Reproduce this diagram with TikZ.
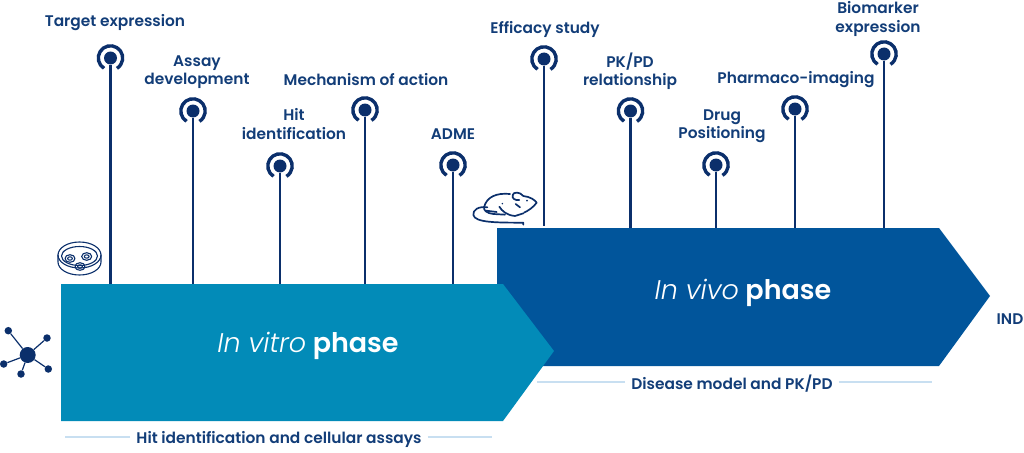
\documentclass[tikz,border=0pt]{standalone}
\usepackage{fontspec}
\setmainfont{Poppins}[UprightFont=* SemiBold,BoldFont=* SemiBold,ItalicFont=* Light Italic]
\definecolor{navy}{HTML}{0B2F6B}
\definecolor{labelblue}{HTML}{123D78}
\definecolor{vitroblue}{HTML}{028BB8}
\definecolor{vivoblue}{HTML}{01559B}
\definecolor{ruleblue}{HTML}{C8DFF1}
\tikzset{
  pindot/.style={circle, fill=navy, inner sep=0pt, minimum size=13pt},
  pinline/.style={navy, line width=2.7pt},
  pinring/.style={navy, line width=3.4pt},
  tag/.style={text=labelblue, align=center, font=\fontsize{15.4}{18.5}\selectfont},
  phasetitle/.style={text=white, font=\fontsize{27}{30}\selectfont},
  rulecap/.style={text=labelblue, inner xsep=6pt, font=\fontsize{15.4}{18}\selectfont},
  ruleline/.style={ruleblue, line width=1.2pt},
  icon/.style={navy, line width=1.1pt, line cap=round, line join=round},
  hub/.style={circle, fill=navy, inner sep=0pt, minimum size=16pt},
  sat/.style={circle, fill=navy, inner sep=0pt, minimum size=7.5pt}
}

\begin{document}
\begin{tikzpicture}[x=1pt, y=-1pt]
\useasboundingbox (0,0) rectangle (1024,452);
% phases
\fill[vivoblue] (497,228) -- (939,228) -- (990,296) -- (939,366) -- (497,366) -- cycle;
\fill[vitroblue] (61,284) -- (503,284) -- (554,351) -- (503,421) -- (61,421) -- cycle;
\coordinate (vitrotop) at (61,284);
\coordinate (vivotop) at (497,228);
\node[phasetitle] (vitro) at (308,346) {\textit{In vitro} \textbf{phase}};
\node[phasetitle] (vivo) at (743,293) {\textit{In vivo} \textbf{phase}};
% pins
\node[pindot] (target) at (110.5,58) {};
\node[pindot] (assay) at (193,111) {};
\node[pindot] (hit) at (280,166) {};
\node[pindot] (moa) at (365,110) {};
\node[pindot] (adme) at (453,165) {};
\node[pindot] (efficacy) at (544,59) {};
\node[pindot] (pkpd) at (630.5,111) {};
\node[pindot] (drug) at (716,165) {};
\node[pindot] (imaging) at (795,109) {};
\node[pindot] (biomarker) at (884,54) {};
\foreach \pin in {target,assay,hit,moa,adme,efficacy,pkpd,drug,imaging,biomarker}
  \draw[pinring] (\pin) ++(122:12.2) arc (122:418:12.2);
% stems
\draw[pinline]
(target) edge (target |- vitrotop)
(assay) edge (assay |- vitrotop)
(hit) edge (hit |- vitrotop)
(moa) edge (moa |- vitrotop)
(adme) edge (adme |- vitrotop)
(efficacy) edge [shorten >=2pt] (efficacy |- vivotop)
(pkpd) edge (pkpd |- vivotop)
(drug) edge (drug |- vivotop)
(imaging) edge (imaging |- vivotop)
(biomarker) edge (biomarker |- vivotop);
% labels
\node[tag] (targetlab) at (115,23) {Target expression};
\node[tag] (assaylab) at (197,72) {Assay\\development};
\node[tag] (hitlab) at (294,124) {Hit\\identification};
\node[tag] (moalab) at (366,80) {Mechanism of action};
\node[tag] (admelab) at (453,134) {ADME};
\node[tag] (efficacylab) at (545,29) {Efficacy study};
\node[tag] (pkpdlab) at (630,71) {PK/PD\\relationship};
\node[tag] (druglab) at (722,126) {Drug\\Positioning};
\node[tag] (imaginglab) at (796,80) {Pharmaco-imaging};
\node[tag] (biomarkerlab) at (878,19) {Biomarker\\expression};
\node[tag] (ind) at (1010,319) {IND};
% captions
\node[rulecap] (vitrocap) at (279,439) {Hit identification and cellular assays};
\node[rulecap] (vivocap) at (732,384) {Disease model and PK/PD};
\coordinate (vitroleft) at (65,437);
\coordinate (vitroright) at (492,437);
\coordinate (vivoleft) at (537,382);
\coordinate (vivoright) at (932,382);
\draw[ruleline]
(vitrocap.west |- vitroleft) edge (vitroleft)
(vitrocap.east |- vitroright) edge (vitroright)
(vivocap.west |- vivoleft) edge (vivoleft)
(vivocap.east |- vivoright) edge (vivoright);
% molecule
\node[hub] (core) at (27.7,355) {};
\node[sat] (s1) at (8.3,330.7) {};
\node[sat] (s2) at (47,338) {};
\node[sat] (s3) at (3.7,364) {};
\node[sat] (s4) at (21,374) {};
\node[sat] (s5) at (48.3,369) {};
\foreach \s in {s1,s2,s3,s4,s5}
  \draw[navy, line width=1.2pt] (core) -- (\s);
% dish
\draw[icon] (79.5,255) ellipse (21.5 and 13);
\draw[icon] (79.5,256) ellipse (18 and 9.5);
\draw[icon] (58,255) -- (58,262) arc (180:0:21.5 and 13) -- (101,255);
\foreach \x/\y in {70/258.5,86.7/256.5,80/266.5} {
  \draw[icon] (\x,\y) ellipse (5 and 3.8);
  \draw[icon] (\x,\y) ellipse (2.4 and 1.7);
}
% mouse
\begin{scope}[shift={(460,180)}, x=0.3333pt, y=-0.3333pt, navy, line width=1.7pt, line cap=round, line join=round]
\draw (150,42) .. controls (110,38) and (80,50) .. (72,82) .. controls (70,90) and (80,100) .. (100,102);
\draw (82,82) .. controls (55,78) and (38,90) .. (40,105) .. controls (45,128) and (110,128) .. (190,128) -- (190,134);
\draw (190,100) -- (165,108) .. controls (140,106) and (125,92) .. (118,80);
\draw (158,45) .. controls (160,35) and (180,35) .. (190,48) .. controls (210,50) and (225,60) .. (230,68) .. controls (220,82) and (205,92) .. (192,98);
\draw (158,45) .. controls (155,55) and (165,62) .. (178,60);
\draw (100,102) -- (135,104);
\draw (78,92) -- (110,96);
\draw (167,72) -- (180,82);
\fill (201,62) circle (3);
\fill (127,71) circle (2.5);
\end{scope}
\end{tikzpicture}
\end{document}
